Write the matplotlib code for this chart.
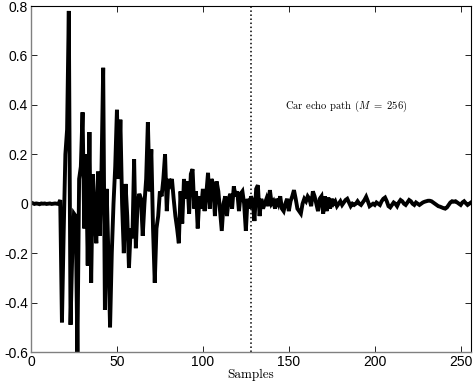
import numpy as np
import matplotlib
matplotlib.use("Agg")
import matplotlib.pyplot as plt

plt.rcParams['axes.unicode_minus'] = False
plt.rcParams['mathtext.fontset'] = 'cm'

# Car echo path impulse response (M = 256)
h_head = [0.002, -0.001, 0.001, 0.0, -0.002, 0.001, 0.0, 0.001, -0.001, 0.0,
          0.001, -0.001, 0.0, 0.001, 0.0, -0.001, 0.015, -0.48, -0.12, 0.2,
          0.3, 0.78, -0.49, -0.2, -0.04, -0.05, -0.6, 0.1, 0.15, 0.37,
          -0.1, 0.2, -0.25, 0.29, -0.32, 0.12, -0.05, -0.16, 0.13, -0.13,
          0.13, 0.55, -0.43, 0.06, -0.2, -0.5, -0.2, 0.0, 0.15, 0.38,
          0.1, 0.34, 0.0, -0.2, 0.08, -0.05, -0.26, -0.1, -0.14, 0.18,
          -0.18, 0.0, 0.04, 0.02, -0.13, 0.0, 0.1, 0.33, 0.05, 0.22,
          -0.1, -0.32, -0.1, -0.05, 0.05, 0.03, 0.1, 0.2, -0.03, 0.1,
          0.08, 0.1, 0.02, -0.05, -0.1, -0.16, 0.05, -0.08, 0.1, 0.02,
          0.09, -0.04, 0.12, 0.14, -0.02, 0.05, -0.1, 0.03, -0.02, 0.06,
          -0.03, 0.04, 0.125, -0.02, 0.1, 0.08, -0.05, 0.09, 0.05, -0.03,
          -0.11, 0.0, 0.03, -0.05, 0.02, 0.04, -0.02, 0.07, 0.03, 0.05,
          -0.03, 0.04, 0.05, 0.0, -0.11, 0.02, -0.02, 0.03]
h_tail = [0.01, -0.07, 0.06, 0.075, -0.05, 0.02, -0.02, 0.0, 0.02, -0.01,
          0.055, 0.0, 0.01, -0.02, 0.02, 0.0, 0.03, -0.02, -0.03, 0.0,
          0.02, -0.03, 0.01, 0.03, 0.055, 0.02, -0.02, -0.03, -0.04, 0.0,
          0.02, 0.01, 0.03, 0.02, -0.01, 0.05, 0.03, 0.0, -0.03, 0.02,
          0.03, -0.04, 0.03, -0.03, 0.025, -0.02, 0.02, 0.0, 0.01, -0.01,
          0.0, 0.01, -0.005, 0.005, 0.015, 0.02, 0.005, -0.01, 0.0, -0.005,
          0.0, 0.01, 0.0, -0.005, 0.005, 0.015, 0.028, 0.01, -0.01, -0.005,
          0.0, -0.005, 0.005, 0.0, -0.005, 0.01, 0.02, 0.025, 0.01, -0.01,
          -0.015, -0.005, 0.005, 0.0, -0.01, 0.005, 0.015, 0.01, 0.0, -0.005,
          0.005, 0.015, 0.01, 0.0, -0.005, 0.005, 0.0, -0.005, 0.0, 0.005,
          0.008, 0.01, 0.012, 0.012, 0.01, 0.005, 0.0, -0.005, -0.01, -0.012,
          -0.015, -0.018, -0.02, -0.015, -0.005, 0.005, 0.01, 0.008, 0.01, 0.005,
          0.0, -0.005, 0.005, 0.01, 0.002, -0.005, 0.0, 0.005]
h = np.array(h_head + h_tail)
samples = np.arange(1, len(h) + 1)

divider_x = 128
x_ticks = [0, 50, 100, 150, 200, 250]
y_ticks = [-0.6, -0.4, -0.2, 0, 0.2, 0.4, 0.6, 0.8]
y_tick_labels = ['-0.6', '-0.4', '-0.2', '0', '0.2', '0.4', '0.6', '0.8']
x_label = 'Samples'
annotation = r'Car echo path ($M\ =\ 256$)'

fig = plt.figure(figsize=(4.73, 3.88), dpi=100)
ax = fig.add_axes([31/473, 1 - 352/388, 440/473, 346/388])

ax.plot(samples, h, color='black', linewidth=2.8, solid_joinstyle='miter')
ax.axvline(divider_x, color='black', linestyle=':', linewidth=1.1)

ax.set_xlim(0, 256)
ax.set_ylim(-0.6, 0.8)
ax.set_xticks(x_ticks)
ax.set_xticklabels([str(t) for t in x_ticks])
ax.set_yticks(y_ticks)
ax.set_yticklabels(y_tick_labels)

ax.tick_params(direction='in', length=4, width=0.6, top=True, right=True,
               labelsize=10, pad=2)
for lbl in ax.get_xticklabels() + ax.get_yticklabels():
    lbl.set_fontfamily('Liberation Sans')
for side in ['left', 'bottom']:
    ax.spines[side].set_color('#808080')
    ax.spines[side].set_linewidth(1.0)
for side in ['top', 'right']:
    ax.spines[side].set_color('black')
    ax.spines[side].set_linewidth(0.8)

ax.set_xlabel(x_label, fontfamily='cmr10', fontsize=9.5, labelpad=0)
ax.text(148, 0.395, annotation, fontfamily='cmr10', fontsize=7.6,
        ha='left', va='center')

fig.savefig('out.png', dpi=100)
